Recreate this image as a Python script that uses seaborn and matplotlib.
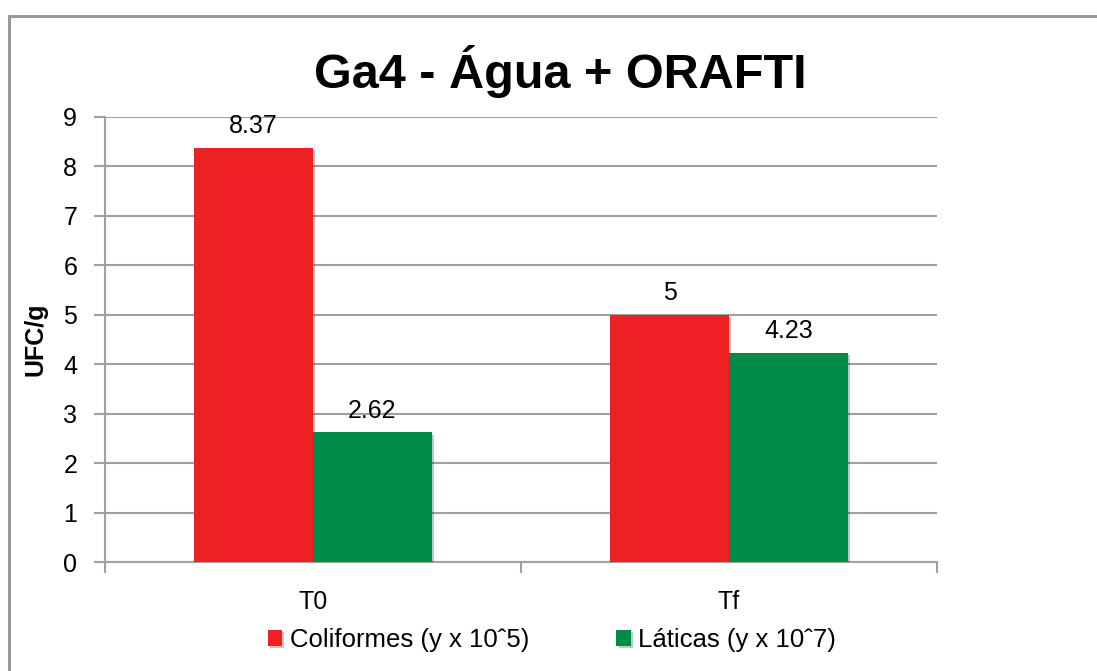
import matplotlib
matplotlib.use('Agg')
import matplotlib.pyplot as plt
import seaborn as sns
import pandas as pd
from matplotlib.lines import Line2D
import matplotlib.patheffects as pe

# data
tempos = ["T0", "Tf"]
series = ["Coliformes (y x 10ˆ5)", "Láticas (y x 10ˆ7)"]
coliformes = [8.37, 5]
laticas = [2.62, 4.23]
yticks = list(range(0, 10))

RED = "#ED2024"
GREEN = "#008C48"
GRAY = "#A0A0A0"

df = pd.DataFrame({
    "tempo": tempos * 2,
    "serie": [series[0]] * len(tempos) + [series[1]] * len(tempos),
    "valor": coliformes + laticas,
})

sns.set_theme(style="white")
plt.rcParams['font.family'] = ['Liberation Sans', 'DejaVu Sans']
plt.rcParams['text.color'] = 'black'
plt.rcParams['axes.labelcolor'] = 'black'

fig = plt.figure(figsize=(10.97, 6.71), dpi=100)
ax = fig.add_axes([105 / 1097, 1 - 562 / 671, 832 / 1097, 445 / 671])

sns.barplot(data=df, x="tempo", y="valor", hue="serie", hue_order=series,
            palette=[RED, GREEN], width=0.57, saturation=1, ax=ax,
            legend=True, linewidth=0, zorder=3)

for bar in ax.patches:
    bar.set_path_effects([pe.SimplePatchShadow(offset=(1.5, -1.5), alpha=0.25),
                          pe.Normal()])

for cont in ax.containers:
    ax.bar_label(cont, labels=[f"{v:g}" for v in cont.datavalues],
                 padding=7, fontsize=18, color="black")

ax.set_ylim(0, 9)
ax.set_xlim(-0.5, 1.5)
ax.set_yticks(yticks)
ax.yaxis.grid(True, color=GRAY, linewidth=1.5, zorder=0)
ax.set_axisbelow(True)

for side in ["top", "right"]:
    ax.spines[side].set_visible(False)
for side in ["left", "bottom"]:
    ax.spines[side].set_color(GRAY)
    ax.spines[side].set_linewidth(1.5)

ax.tick_params(axis="y", which="major", direction="out", length=8, width=1.5,
               color=GRAY, labelcolor="black", labelsize=18, pad=12, left=True)
ax.tick_params(axis="x", which="major", length=0, labelsize=18,
               labelcolor="black", pad=20)
ax.set_xticks([-0.5, 0.5, 1.5], minor=True)
ax.tick_params(axis="x", which="minor", direction="out", length=8, width=1.5,
               color=GRAY, bottom=True)

ax.set_xlabel("")
ax.set_ylabel("UFC/g", fontsize=18, fontweight="bold", color="black")
ax.yaxis.set_label_coords(-57 / 832, 0.5)

fig.text(560 / 1097, 1 - 71 / 671, "Ga4 - Água + ORAFTI", ha="center",
         va="center", fontsize=35, fontweight="bold", color="black")

handles, labels = ax.get_legend_handles_labels()
ax.get_legend().remove()
fig.legend(handles, labels, loc="center", bbox_to_anchor=(552 / 1097, 1 - 640 / 671),
           ncol=2, frameon=False, fontsize=18.5, handlelength=0.55, handleheight=0.55,
           handletextpad=0.3, columnspacing=3.4)

# outer frame (top and left only visible)
fig.add_artist(Line2D([9 / 1097, 1], [1 - 16 / 671, 1 - 16 / 671],
                      transform=fig.transFigure, color="#999999", linewidth=2.2))
fig.add_artist(Line2D([9 / 1097, 9 / 1097], [0, 1 - 16 / 671],
                      transform=fig.transFigure, color="#999999", linewidth=2.2))

fig.savefig("out.png", dpi=100)
